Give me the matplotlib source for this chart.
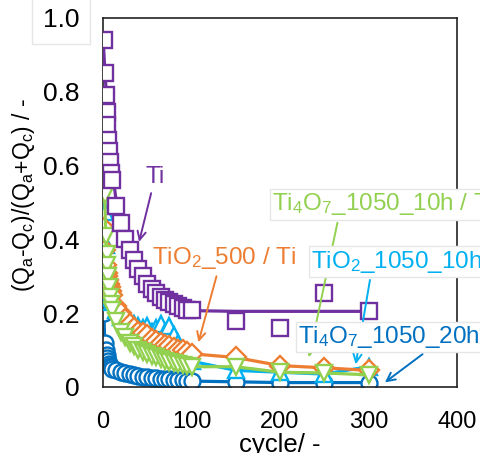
import numpy as np
import matplotlib
matplotlib.use('Agg')
import matplotlib.pyplot as plt

plt.rcParams['font.family'] = ['Liberation Sans', 'DejaVu Sans']
plt.rcParams['mathtext.default'] = 'regular'

# cycle numbers where the ratio was recorded
cycles = [1, 2, 3, 4, 5, 6, 7, 8, 9, 10, 15, 20, 25, 30, 35, 40, 45, 50, 55, 60,
          65, 70, 75, 80, 85, 90, 95, 100, 150, 200, 250, 300]

ti = [0.94, 0.85, 0.79, 0.745, 0.71, 0.67, 0.64, 0.61, 0.58, 0.56, 0.49, 0.445,
      0.40, 0.37, 0.345, 0.32, 0.30, 0.28, 0.265, 0.255, 0.245, 0.235, 0.23, 0.225,
      0.22, 0.215, 0.21, 0.21, 0.18, 0.16, 0.255, 0.205]
tio2_500 = [0.43, 0.37, 0.33, 0.31, 0.30, 0.29, 0.28, 0.27, 0.26, 0.25, 0.22, 0.20,
            0.185, 0.17, 0.16, 0.15, 0.145, 0.14, 0.13, 0.125, 0.12, 0.115, 0.11, 0.105,
            0.10, 0.10, 0.095, 0.09, 0.08, 0.058, 0.052, 0.045]
ti4o7_10h = [0.77, 0.52, 0.41, 0.36, 0.33, 0.30, 0.27, 0.245, 0.225, 0.21, 0.18, 0.15,
             0.135, 0.12, 0.11, 0.10, 0.095, 0.09, 0.085, 0.08, 0.075, 0.07, 0.068, 0.065,
             0.062, 0.06, 0.058, 0.055, 0.055, 0.04, 0.038, 0.033]
tio2_1050 = [0.70, 0.475, 0.385, 0.33, 0.30, 0.28, 0.26, 0.25, 0.24, 0.23, 0.21, 0.19,
             0.18, 0.175, 0.17, 0.165, 0.16, 0.165, 0.15, 0.16, 0.17, 0.15, 0.165, 0.14,
             0.12, 0.10, 0.085, 0.07, 0.045, 0.04, 0.035, 0.055]
ti4o7_20h = [0.20, 0.12, 0.10, 0.088, 0.078, 0.07, 0.063, 0.058, 0.053, 0.05, 0.045, 0.04,
             0.037, 0.034, 0.032, 0.03, 0.028, 0.027, 0.025, 0.024, 0.023, 0.022, 0.021, 0.02,
             0.019, 0.018, 0.017, 0.016, 0.014, 0.012, 0.012, 0.012]

# fitted decay curve for bare Ti
ti_fit_x = [0, 2, 5, 10, 15, 20, 30, 40, 50, 60, 70, 80, 90, 100, 150, 200, 250, 300]
ti_fit_y = [0.95, 0.86, 0.75, 0.60, 0.50, 0.43, 0.35, 0.30, 0.27, 0.245, 0.23, 0.22,
            0.21, 0.207, 0.205, 0.205, 0.205, 0.205]

purple = '#7030A0'
orange = '#ED7D31'
green = '#92D050'
lblue = '#00B0F0'
dblue = '#0070C0'

fig = plt.figure(figsize=(4.8, 4.53), dpi=100)
ax = fig.add_axes([0.2146, 0.1457, 0.7375, 0.8146])

ms = 11.5
mew = 1.7
ax.plot(cycles, ti4o7_20h, color=dblue, lw=2.3, marker='o', ms=ms, mfc='w', mec=dblue, mew=mew, zorder=2)
ax.plot(cycles, tio2_1050, color=lblue, lw=2.3, marker='^', ms=ms, mfc='w', mec=lblue, mew=mew, zorder=3)
ax.plot(cycles, tio2_500, color=orange, lw=2.3, marker='D', ms=ms * 0.9, mfc='w', mec=orange, mew=mew, zorder=4)
ax.plot(cycles, ti4o7_10h, color=green, lw=2.3, marker='v', ms=ms, mfc='w', mec=green, mew=mew, zorder=5)
ax.plot(cycles, ti, ls='none', marker='s', ms=ms, mfc='w', mec=purple, mew=mew, zorder=6)
ax.plot(ti_fit_x, ti_fit_y, color=purple, lw=2.3, zorder=5.5)

ax.set_xlim(0, 400)
ax.set_ylim(0, 1.0)
ax.set_xticks([0, 100, 200, 300, 400])
ax.set_yticks([0, 0.2, 0.4, 0.6, 0.8, 1.0])
ax.set_yticklabels(['0', '0.2', '0.4', '0.6', '0.8', '1.0'])
ax.tick_params(axis='x', length=0, labelsize=17, pad=17)
ax.tick_params(axis='y', length=0, labelsize=19, pad=17)
for s in ax.spines.values():
    s.set_linewidth(1.2)
    s.set_color('#222222')
ax.get_yticklabels()[-1].set_bbox(dict(facecolor='w', edgecolor='#e6e6e6', pad=8))

ax.set_xlabel('cycle/ -', fontsize=18.5, labelpad=0)
ax.set_ylabel('(Q$_a$-Q$_c$)/(Q$_a$+Q$_c$) / -', fontsize=16.5)
ax.yaxis.set_label_coords(-0.186, 0.52)

arrow = dict(arrowstyle='->', lw=1.4, mutation_scale=15)
box = dict(facecolor='w', edgecolor='#e6e6e6', pad=1.5)
fs = 17.5

ax.annotate('Ti', xy=(40, 0.386), xytext=(59, 0.57), color=purple, fontsize=fs,
            ha='center', va='center', arrowprops=dict(arrow, color=purple), zorder=10)
ax.annotate('TiO$_2$_500 / Ti', xy=(107, 0.114), xytext=(55, 0.35), color=orange, fontsize=fs,
            ha='left', va='center', arrowprops=dict(arrow, color=orange, relpos=(0.46, 0)), zorder=10)
ax.annotate('Ti$_4$O$_7$_1050_10h / Ti', xy=(232, 0.073), xytext=(191, 0.495), color=green, fontsize=fs,
            ha='left', va='center', bbox=box, annotation_clip=False,
            arrowprops=dict(arrow, color=green, relpos=(0.3, 0)), zorder=10)
ax.annotate('TiO$_2$_1050_10h', xy=(285, 0.054), xytext=(235, 0.34), color=lblue, fontsize=fs,
            ha='left', va='center', bbox=box, annotation_clip=False,
            arrowprops=dict(arrow, color=lblue, relpos=(0.35, 0)), zorder=10)
ax.annotate('Ti$_4$O$_7$_1050_20h', xy=(316, 0.008), xytext=(220, 0.136), color=dblue, fontsize=fs,
            ha='left', va='center', bbox=box, annotation_clip=False,
            arrowprops=dict(arrow, color=dblue, relpos=(0.72, 0)), zorder=10)

fig.savefig('out.png', dpi=100)
